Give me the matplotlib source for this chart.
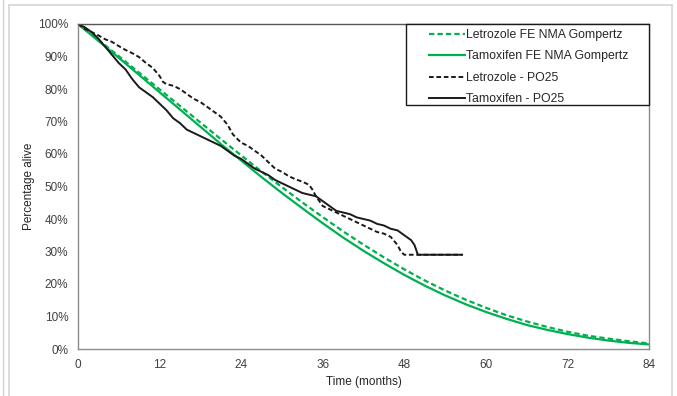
import matplotlib
matplotlib.use("Agg")
import matplotlib.pyplot as plt
from matplotlib.lines import Line2D
from matplotlib.patches import Rectangle

plt.rcParams['font.family'] = ['Liberation Sans', 'DejaVu Sans']

# Fitted Gompertz curves (FE NMA), sampled every 3 months
fit_months = [0, 3, 6, 9, 12, 15, 18, 21, 24, 27, 30, 33, 36, 39, 42, 45,
              48, 51, 54, 57, 60, 63, 66, 69, 72, 75, 78, 81, 84]
letrozole_fit = [1.000, 0.951, 0.901, 0.850, 0.799, 0.748, 0.697, 0.646, 0.596,
                 0.546, 0.498, 0.451, 0.406, 0.362, 0.321, 0.282, 0.245, 0.211,
                 0.180, 0.152, 0.127, 0.104, 0.085, 0.068, 0.053, 0.041, 0.032,
                 0.024, 0.017]
tamoxifen_fit = [1.000, 0.948, 0.896, 0.843, 0.790, 0.737, 0.684, 0.631, 0.580,
                 0.529, 0.480, 0.433, 0.387, 0.343, 0.302, 0.264, 0.228, 0.195,
                 0.165, 0.138, 0.114, 0.093, 0.074, 0.059, 0.046, 0.035, 0.026,
                 0.019, 0.014]

# Kaplan-Meier estimates (PO25 trial)
letrozole_km_t = [0, 1, 2, 3, 4, 5, 6, 7, 8, 9, 10, 11, 12, 12.5, 13, 14, 15, 16,
                  17, 18, 19, 20, 21, 22, 22.8, 23.5, 24, 25, 26, 27, 28, 29, 30,
                  31, 32, 33, 34, 34.5, 35, 35.5, 36, 37, 38, 39, 40, 41, 42, 43,
                  44, 45, 46, 47, 47.5, 48, 56.5]
letrozole_km_s = [1.000, 0.985, 0.975, 0.965, 0.953, 0.945, 0.932, 0.920, 0.910,
                  0.898, 0.880, 0.865, 0.840, 0.822, 0.815, 0.810, 0.800, 0.785,
                  0.770, 0.760, 0.745, 0.730, 0.715, 0.690, 0.660, 0.645, 0.635,
                  0.625, 0.610, 0.595, 0.575, 0.555, 0.545, 0.532, 0.522, 0.515,
                  0.505, 0.490, 0.470, 0.455, 0.440, 0.430, 0.420, 0.410, 0.400,
                  0.390, 0.380, 0.370, 0.360, 0.355, 0.345, 0.320, 0.300, 0.290,
                  0.290]
tamoxifen_km_t = [0, 1, 2, 3, 4, 5, 6, 7, 8, 9, 10, 11, 12, 13, 14, 15, 16, 17,
                  18, 19, 20, 21, 22, 23, 24, 25, 26, 27, 28, 29, 30, 31, 32, 33,
                  34, 35, 36, 37, 38, 39, 40, 41, 42, 43, 44, 45, 46, 47, 48, 49,
                  49.5, 50, 56.5]
tamoxifen_km_s = [1.000, 0.990, 0.975, 0.955, 0.930, 0.905, 0.880, 0.860, 0.830,
                  0.805, 0.790, 0.775, 0.755, 0.735, 0.710, 0.695, 0.675, 0.665,
                  0.655, 0.645, 0.635, 0.625, 0.610, 0.595, 0.585, 0.570, 0.555,
                  0.545, 0.535, 0.520, 0.510, 0.500, 0.490, 0.480, 0.475, 0.470,
                  0.455, 0.440, 0.425, 0.420, 0.415, 0.405, 0.400, 0.395, 0.385,
                  0.380, 0.370, 0.365, 0.350, 0.335, 0.320, 0.290, 0.290]

x_ticks = [0, 12, 24, 36, 48, 60, 72, 84]
y_ticks = [0, 0.1, 0.2, 0.3, 0.4, 0.5, 0.6, 0.7, 0.8, 0.9, 1.0]
y_tick_labels = ['0%', '10%', '20%', '30%', '40%', '50%', '60%', '70%', '80%',
                 '90%', '100%']

GREEN = '#00B050'
dash = (0, (2.4, 1.4))

fig = plt.figure(figsize=(6.77, 3.96), dpi=100)
ax = fig.add_axes([78 / 677, 1 - 349 / 396, (649 - 78) / 677, (349 - 24) / 396])

ax.plot(fit_months, letrozole_fit, color=GREEN, lw=1.6, ls=dash,
        label='Letrozole FE NMA Gompertz')
ax.plot(fit_months, tamoxifen_fit, color=GREEN, lw=1.6, ls='-',
        label='Tamoxifen FE NMA Gompertz')
ax.plot(letrozole_km_t, letrozole_km_s, color='#1a1a1a', lw=1.4, ls=dash,
        label='Letrozole - PO25')
ax.plot(tamoxifen_km_t, tamoxifen_km_s, color='#1a1a1a', lw=1.4, ls='-',
        label='Tamoxifen - PO25')

ax.set_xlim(0, 84)
ax.set_ylim(0, 1)
ax.set_xticks(x_ticks)
ax.set_xticklabels([str(v) for v in x_ticks])
ax.set_yticks(y_ticks)
ax.set_yticklabels(y_tick_labels)
ax.tick_params(length=0, labelsize=8.5, colors='#404040')
ax.tick_params(axis='y', pad=7)
ax.tick_params(axis='x', pad=7)

for side in ('left', 'bottom', 'right'):
    ax.spines[side].set_color('#8c8c8c')
    ax.spines[side].set_linewidth(1.0)
ax.spines['top'].set_color('#555555')
ax.spines['top'].set_linewidth(1.0)

ax.set_xlabel('Time (months)', fontsize=8.5, color='#262626', labelpad=4)
ax.set_ylabel('Percentage alive', fontsize=8.5, color='#262626', labelpad=2)

# Legend box drawn as its own rectangle; entries placed inside it
box_x0 = (406 - 78) / (649 - 78)
box_y0 = (349 - 105) / (349 - 24)
ax.add_patch(Rectangle((box_x0, box_y0), 1 - box_x0, 1 - box_y0,
                       transform=ax.transAxes, facecolor='white',
                       edgecolor='#1a1a1a', lw=1.0, zorder=5, clip_on=False))
leg = ax.legend(loc='upper left',
                bbox_to_anchor=((430 - 78) / (649 - 78) - 0.01, 1.0),
                borderaxespad=0, fontsize=8.8, frameon=False,
                handlelength=2.9, handletextpad=0.15, labelspacing=0.78,
                borderpad=0.4)
leg.set_zorder(6)
for t in leg.get_texts():
    t.set_color('#262626')

# Surrounding chart-area frame
frame_col = '#d4d4d4'
fig.add_artist(Line2D([9 / 677, 9 / 677], [0, 1 - 5 / 396], color=frame_col, lw=1.2,
                      transform=fig.transFigure))
fig.add_artist(Line2D([3 / 677, 3 / 677], [0, 1], color=frame_col, lw=1.0,
                      transform=fig.transFigure))
fig.add_artist(Line2D([9 / 677, 672 / 677], [1 - 5 / 396, 1 - 5 / 396], color=frame_col,
                      lw=1.2, transform=fig.transFigure))
fig.add_artist(Line2D([672 / 677, 672 / 677], [0, 1 - 5 / 396], color=frame_col, lw=1.2,
                      transform=fig.transFigure))

fig.savefig('out.png', dpi=100)
